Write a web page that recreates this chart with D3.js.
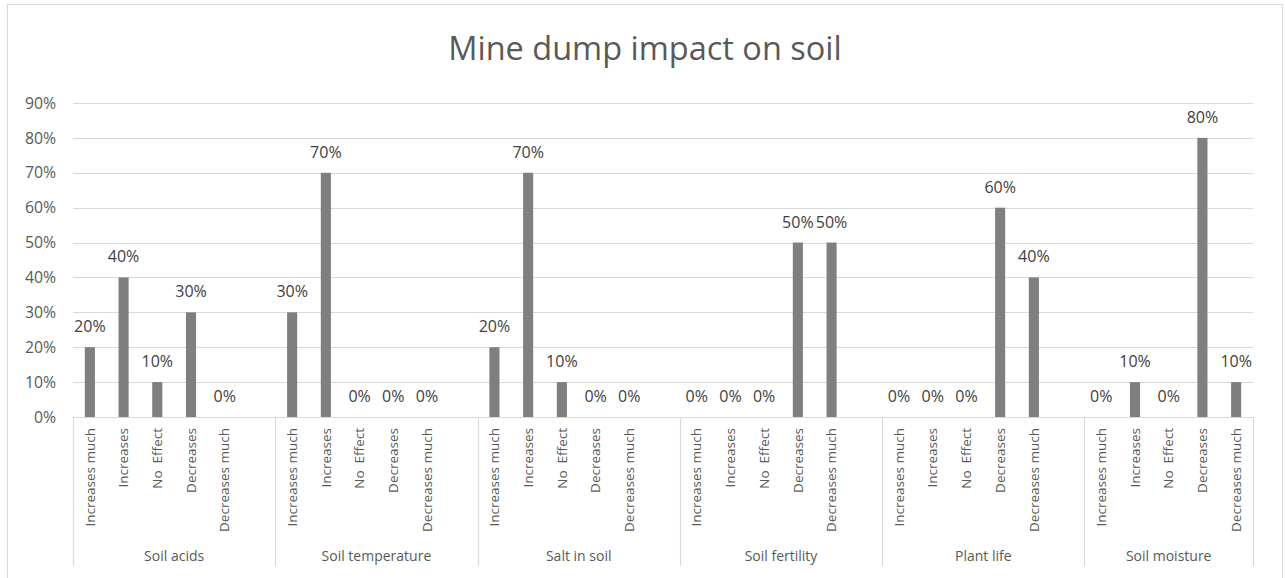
<!DOCTYPE html>
<html><head><meta charset="utf-8">
<script src="https://cdn.jsdelivr.net/npm/d3@7"></script>
<style>body{margin:0;background:#fff;}svg{display:block;}text{font-family:"Open Sans",sans-serif;}</style>
</head><body>
<svg id="c" width="1285" height="578"></svg>
<script>
const title = "Mine dump impact on soil";
const groups = ["Soil acids","Soil temperature","Salt in soil","Soil fertility","Plant life","Soil moisture"];
const subcats = ["Increases much","Increases","No  Effect","Decreases","Decreases much"];
const soilAcids = [0.20,0.40,0.10,0.30,0.00];
const soilTemperature = [0.30,0.70,0.00,0.00,0.00];
const saltInSoil = [0.20,0.70,0.10,0.00,0.00];
const soilFertility = [0.00,0.00,0.00,0.50,0.50];
const plantLife = [0.00,0.00,0.00,0.60,0.40];
const soilMoisture = [0.00,0.10,0.00,0.80,0.10];
const yTicks = [0,0.1,0.2,0.3,0.4,0.5,0.6,0.7,0.8,0.9];

const seriesByGroup = [soilAcids,soilTemperature,saltInSoil,soilFertility,plantLife,soilMoisture];

const slots = [];
groups.forEach((g,gi)=>{
  subcats.forEach((s,si)=>slots.push({key:gi+"-"+si,group:g,gi,label:s,value:seriesByGroup[gi][si]}));
  if(gi<groups.length-1) slots.push({key:gi+"-blank",group:g,gi,label:"",value:null});
});

const svg = d3.select("#c");
const pLeft=73, pRight=1253, pTop=103, pBottom=417;

svg.append("rect").attr("x",7.5).attr("y",4.5).attr("width",1275).attr("height",600)
  .attr("fill","#fff").attr("stroke","#d9d9d9");

const x = d3.scaleBand().domain(slots.map(d=>d.key)).range([pLeft,pRight]).paddingInner(0.7).paddingOuter(0.35);
const y = d3.scaleLinear().domain([0,0.9]).range([pBottom,pTop]);
const pct = d3.format(".0%");

svg.append("g").selectAll("line").data(yTicks).join("line")
  .attr("x1",pLeft).attr("x2",pRight).attr("y1",d=>Math.round(y(d))+0.5).attr("y2",d=>Math.round(y(d))+0.5)
  .attr("stroke","#d9d9d9").attr("stroke-width",1.2);

svg.append("g").selectAll("text").data(yTicks).join("text")
  .attr("x",56).attr("y",d=>y(d)).attr("dy","0.36em").attr("text-anchor","end")
  .attr("font-size",15.8).attr("fill","#595959").text(pct);

svg.append("text").attr("x",645).attr("y",60).attr("text-anchor","middle")
  .attr("font-size",32.5).attr("fill","#595959").text(title);

const data = slots.filter(d=>d.value!==null);
svg.append("g").selectAll("rect").data(data).join("rect")
  .attr("x",d=>x(d.key)).attr("width",x.bandwidth())
  .attr("y",d=>y(d.value)).attr("height",d=>y(0)-y(d.value))
  .attr("fill","#7f7f7f");

svg.append("g").selectAll("text").data(data).join("text")
  .attr("x",d=>x(d.key)+x.bandwidth()/2).attr("y",d=>y(d.value)-15)
  .attr("text-anchor","middle").attr("font-size",16).attr("fill","#404040")
  .text(d=>pct(d.value));

svg.append("g").selectAll("text").data(data).join("text")
  .attr("transform",d=>`translate(${x(d.key)+x.bandwidth()/2},428) rotate(-90)`)
  .attr("dy","0.35em").attr("text-anchor","end").attr("font-size",13.5).attr("fill","#595959")
  .style("white-space","pre")
  .text(d=>d.label);

const step = x.step();
const bounds = [];
let pos = pLeft;
groups.forEach((g,gi)=>{
  const n = gi<groups.length-1 ? subcats.length+1 : subcats.length;
  bounds.push({g,start:pos,end:pos+n*step});
  pos += n*step;
});
const sepX = [pLeft].concat(bounds.map(b=>b.end));
svg.append("g").selectAll("line").data(sepX).join("line")
  .attr("x1",d=>Math.round(d)+0.5).attr("x2",d=>Math.round(d)+0.5).attr("y1",pBottom).attr("y2",566)
  .attr("stroke","#d9d9d9").attr("stroke-width",1.2);

svg.append("g").selectAll("text").data(bounds).join("text")
  .attr("x",d=>(d.start+d.end)/2).attr("y",561).attr("text-anchor","middle")
  .attr("font-size",14).attr("fill","#595959").text(d=>d.g);
</script>
</body></html>
